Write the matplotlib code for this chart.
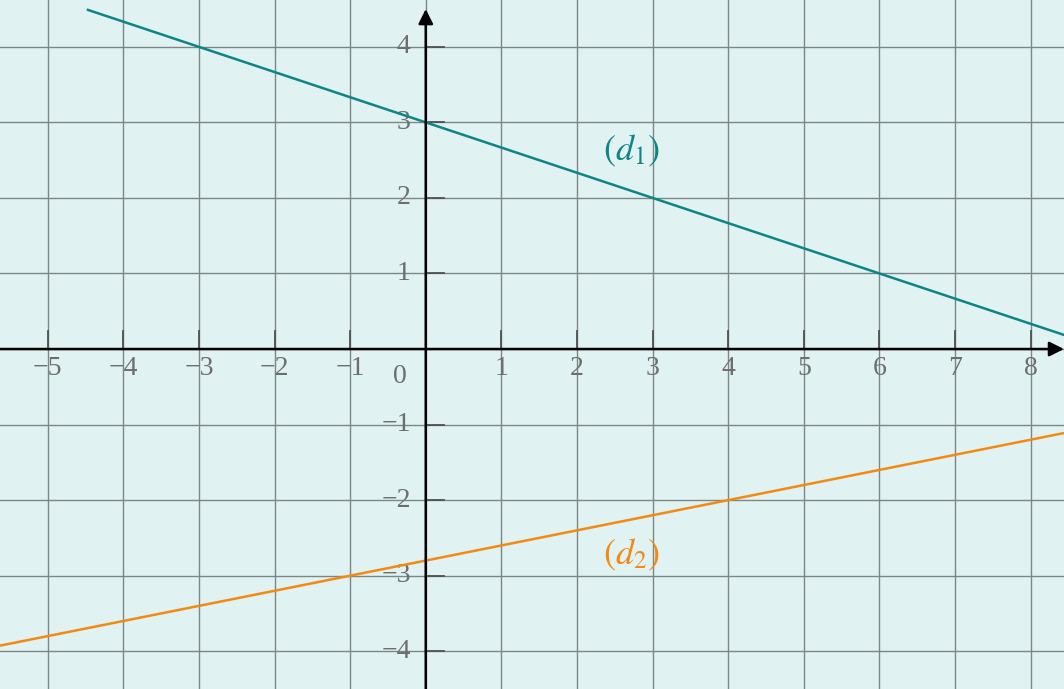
import numpy as np
import matplotlib
matplotlib.use('Agg')
import matplotlib.pyplot as plt

plt.rcParams['mathtext.fontset'] = 'stix'
plt.rcParams['font.family'] = 'Liberation Serif'

# data
x_ticks = [-5, -4, -3, -2, -1, 1, 2, 3, 4, 5, 6, 7, 8]
y_ticks = [-4, -3, -2, -1, 1, 2, 3, 4]
d1_slope, d1_icpt = -1/3, 3      # (d1): y = -x/3 + 3
d2_slope, d2_icpt = 1/5, -2.8    # (d2): y = x/5 - 2.8
xmin, xmax = -5.63, 8.44
ymin, ymax = -4.5, 4.62
ytop = 4.5   # drawing area top (lines clipped here)

bg = '#e0f2f2'
grid_c = '#7a8784'
lab_c = '#6e6e6e'
teal = '#0e8585'
orange = '#f28a12'

fig = plt.figure(figsize=(10.64, 6.89), dpi=100)
ax = fig.add_axes([0, 0, 1, 1])
ax.set_facecolor(bg)
fig.patch.set_facecolor(bg)
ax.set_xlim(xmin, xmax)
ax.set_ylim(ymin, ymax)
ax.axis('off')

# grid
for gx in range(-5, 9):
    ax.axvline(gx, color=grid_c, lw=1, zorder=1)
for gy in range(-4, 5):
    ax.axhline(gy, color=grid_c, lw=1, zorder=1)

# tick marks (dark, above x axis / right of y axis)
for t in x_ticks:
    ax.plot([t, t], [0, 0.24], color='#505050', lw=1.3, zorder=2)
for t in y_ticks:
    ax.plot([0, 0.24], [t, t], color='#505050', lw=1.3, zorder=2)

# axes with arrows
ax.annotate('', xy=(xmax, 0), xytext=(xmin, 0),
            arrowprops=dict(arrowstyle='-|>', color='black', lw=1.8,
                            mutation_scale=22, shrinkA=0, shrinkB=0), zorder=5)
ax.annotate('', xy=(0, 4.5), xytext=(0, ymin),
            arrowprops=dict(arrowstyle='-|>', color='black', lw=1.8,
                            mutation_scale=22, shrinkA=0, shrinkB=0), zorder=5)

# tick labels
for t in x_ticks:
    lbl = '\u2212' + str(-t) if t < 0 else str(t)
    ax.text(t, -0.26, lbl, ha='center', va='center', fontsize=20, color=lab_c, zorder=3)
ax.text(-0.34, -0.37, '0', ha='center', va='center', fontsize=20, color=lab_c, zorder=3)
for t in y_ticks:
    lbl = '\u2212' + str(-t) if t < 0 else str(t)
    ax.text(-0.2, t, lbl, ha='right', va='center', fontsize=20, color=lab_c, zorder=3)

# lines, clipped to the drawing area
xs = np.linspace(xmin, xmax, 400)
y1 = d1_slope * xs + d1_icpt
y2 = d2_slope * xs + d2_icpt
ax.plot(xs[y1 <= ytop], y1[y1 <= ytop], color=teal, lw=1.8, zorder=4)
ax.plot(xs, y2, color=orange, lw=1.8, zorder=4)

ax.text(2.72, 2.62, r'$(d_1)$', ha='center', va='center', fontsize=26, color=teal, zorder=6)
ax.text(2.72, -2.72, r'$(d_2)$', ha='center', va='center', fontsize=26, color=orange, zorder=6)

fig.savefig('out.png', dpi=100, facecolor=bg)
